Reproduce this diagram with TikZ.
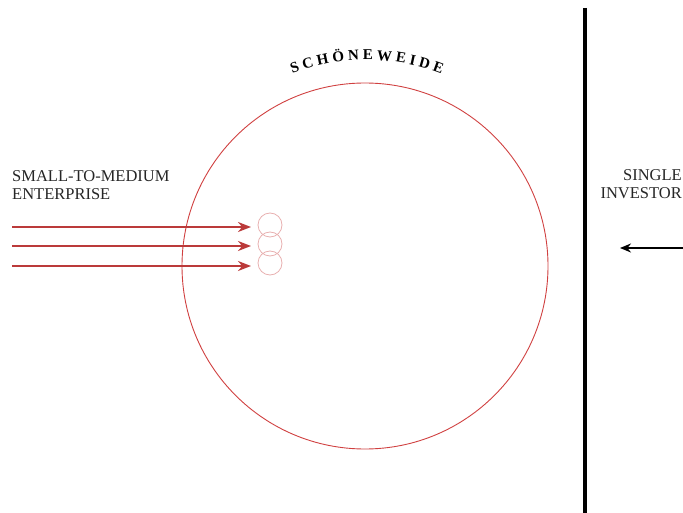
\documentclass[tikz,border=0pt]{standalone}
\usepackage{fontspec}
\setmainfont{Liberation Serif}
\usetikzlibrary{decorations.text,arrows.meta}
\definecolor{redline}{HTML}{D04040}
\definecolor{pale}{HTML}{E8B0B0}
\tikzset{
  flow/.style={draw=redline!90!black, line width=2.6pt, -{Stealth[length=13pt,width=10pt]}},
  bubble/.style={circle, draw=pale, line width=0.8pt, minimum size=24pt, inner sep=0pt},
  lbl/.style={font=\fontsize{16.5}{18}\selectfont, text=black!85, inner sep=0pt},
}
\begin{document}
\begin{tikzpicture}[x=1pt,y=-1pt]
\useasboundingbox (0,0) rectangle (683,513);
\node[circle, draw=redline, line width=0.9pt, minimum size=366pt, inner sep=0pt] (big) at (365,266) {};
\path[decorate, decoration={text along path, text align=center,
  text={|\fontsize{15}{15}\selectfont\bfseries|S\ C\ H\ Ö\ N\ E\ W\ E\ I\ D\ E}}]
  (367,266) ++(-130:206) arc[start angle=-130, end angle=-50, radius=206];
\node[bubble] (b1) at (270,225) {};
\node[bubble] (b2) at (270,244) {};
\node[bubble] (b3) at (270,263) {};
\coordinate (s1) at (12,227);
\coordinate (s2) at (12,246);
\coordinate (s3) at (12,266);
\coordinate (e1) at (251,227);
\coordinate (e2) at (251,246);
\coordinate (e3) at (251,266);
\draw[flow] (s1) -- (e1);
\draw[flow] (s2) -- (e2);
\draw[flow] (s3) -- (e3);
\node[lbl, anchor=base west, align=left] (sme) at (12,200) {SMALL-TO-MEDIUM\\ENTERPRISE};
\coordinate (wt) at (585,8);
\coordinate (wb) at (585,513);
\draw[line width=3.5pt] (wt) -- (wb);
\node[lbl, anchor=base east, align=right] (inv) at (682,199) {SINGLE\\INVESTOR};
\coordinate (a0) at (683,248);
\coordinate (a1) at (620,248);
\draw[line width=1.8pt, -{Stealth[length=11pt,width=9pt]}] (a0) -- (a1);
\end{tikzpicture}
\end{document}
